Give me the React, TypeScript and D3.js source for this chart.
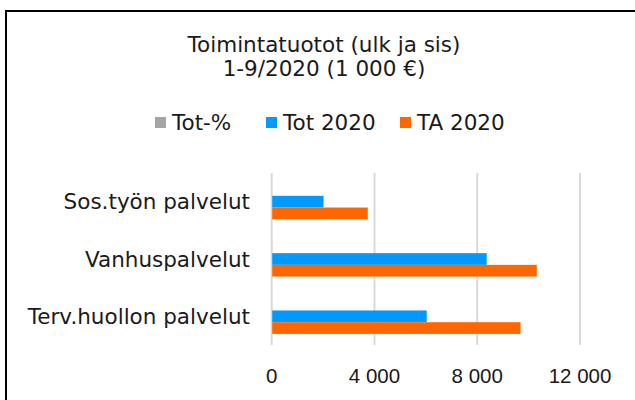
import React from "react";
import * as d3 from "d3";

const categories = ["Sos.työn palvelut", "Vanhuspalvelut", "Terv.huollon palvelut"];
const seriesNames = ["Tot-%", "Tot 2020", "TA 2020"];
const totPct = [0.54, 0.81, 0.62];
const tot2020 = [1997, 8350, 6015];
const ta2020 = [3720, 10300, 9665];
const xTicks = [0, 4000, 8000, 12000];

const colors = ["#a5a5a5", "#0099ff", "#ff6600"];

export default function App() {
  const W = 635;
  const H = 400;
  const x = d3.scaleLinear().domain([0, 16000]).range([271.7, 271.7 + 16000 * 0.025692]);
  const y = d3
    .scaleBand<string>()
    .domain(categories)
    .range([173, 345])
    .paddingInner(0.387)
    .paddingOuter(0.1935);
  const inner = d3.scaleBand<string>().domain(seriesNames).range([0, y.bandwidth()]);
  const values = [totPct, tot2020, ta2020];
  const fmt = (v: number) => d3.format(",")(v).replace(/,/g, " ");
  const sans = "DejaVu Sans, Verdana, sans-serif";
  const legendX = [155, 266, 400];
  const fs = 21.5;

  return (
    <svg
      width={W}
      height={H}
      style={{ position: "absolute", left: 0, top: 0, background: "#fff" }}
    >
      <rect x={0} y={0} width={W} height={H} fill="#fff" />
      <rect x={6} y={11} width={700} height={450} fill="none" stroke="#000" strokeWidth={2} />
      <text x={324} y={52} textAnchor="middle" fontFamily={sans} fontSize={fs} fill="#1a1a1a">
        Toimintatuotot (ulk ja sis)
      </text>
      <text x={324} y={75.5} textAnchor="middle" fontFamily={sans} fontSize={fs} fill="#1a1a1a">
        1-9/2020 (1 000 €)
      </text>
      {seriesNames.map((s, i) => (
        <g key={s}>
          <rect x={legendX[i]} y={117} width={11} height={11} fill={colors[i]} />
          <text x={legendX[i] + 17} y={129.5} fontFamily={sans} fontSize={fs} fill="#1a1a1a">
            {s}
          </text>
        </g>
      ))}
      {xTicks.map((t) => (
        <line key={"g" + t} x1={x(t)} x2={x(t)} y1={173} y2={345} stroke="#d9d9d9" strokeWidth={2} />
      ))}
      {x.domain() && [16000].map((t) => (
        <line key={"h" + t} x1={x(t)} x2={x(t)} y1={173} y2={345} stroke="#d9d9d9" strokeWidth={2} />
      ))}
      {xTicks.map((t) => (
        <text
          key={"t" + t}
          x={x(t)}
          y={383}
          textAnchor="middle"
          fontFamily="Liberation Sans, Arial, sans-serif"
          fontSize={20.5}
          fill="#1a1a1a"
        >
          {fmt(t)}
        </text>
      ))}
      {categories.map((c, ci) => (
        <g key={c}>
          {seriesNames.map((s, si) => (
            <rect
              key={s}
              x={x(0) + 0.5}
              y={(y(c) as number) + (inner(s) as number)}
              width={Math.max(0, x(values[si][ci]) - x(0))}
              height={inner.bandwidth()}
              fill={colors[si]}
            />
          ))}
          <text
            x={250}
            y={(y(c) as number) + y.bandwidth() / 2}
            dominantBaseline="central"
            textAnchor="end"
            fontFamily={sans}
            fontSize={fs}
            fill="#1a1a1a"
          >
            {c}
          </text>
        </g>
      ))}
    </svg>
  );
}
